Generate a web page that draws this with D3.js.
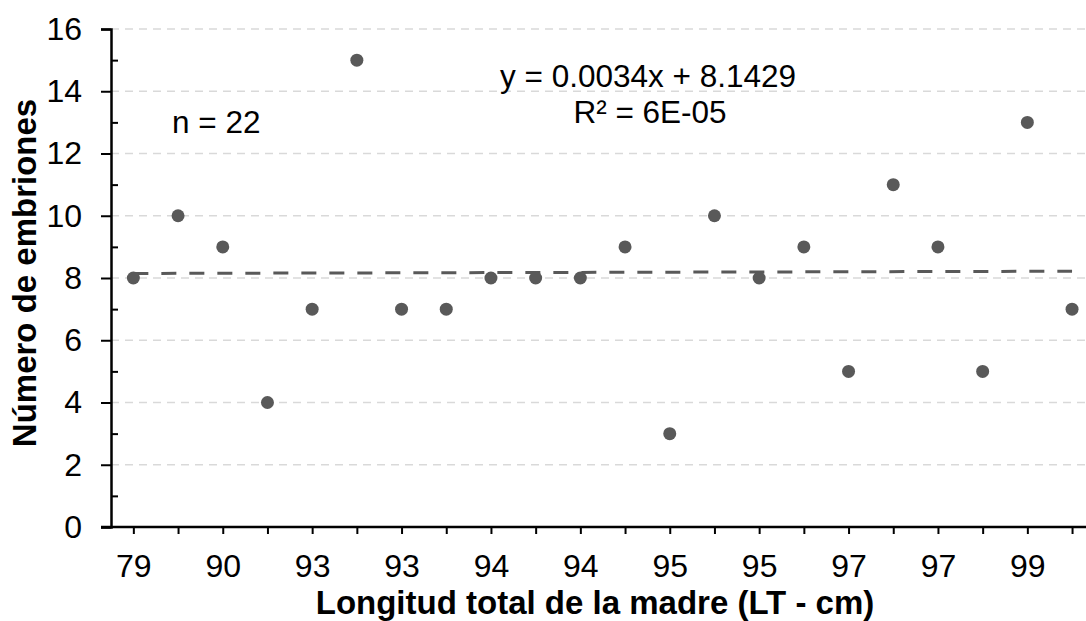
<!DOCTYPE html>
<html><head><meta charset="utf-8">
<script src="https://cdn.jsdelivr.net/npm/d3@7"></script>
<style>body{margin:0;background:#fff;} svg{display:block;font-family:"Liberation Sans",Arial,sans-serif;}</style>
</head><body>
<script>
const lengths = [79, 88, 90, 92, 93, 93, 93, 93, 94, 94, 94, 94, 95, 95, 95, 96, 97, 97, 97, 98, 99, 100];
const embryos = [8, 10, 9, 4, 7, 15, 7, 7, 8, 8, 8, 9, 3, 10, 8, 9, 5, 11, 9, 5, 13, 7];
const yTicks = [0, 2, 4, 6, 8, 10, 12, 14, 16];
const yMinorTicks = [1, 3, 5, 7, 9, 11, 13, 15];
const trendSlope = 0.0034, trendIntercept = 8.1429;
const equationText = "y = 0.0034x + 8.1429";
const r2Text = "R² = 6E-05";
const nText = "n = 22";

const W = 1086, H = 621;
const FONT = "Liberation Sans, Arial, sans-serif";
const svg = d3.select("body").append("svg").attr("width", W).attr("height", H);
const idx = d3.range(1, embryos.length + 1);
const x = d3.scaleLinear().domain([0.5, 22.5]).range([111, 111 + 22 * 44.7]);
const y = d3.scaleLinear().domain([0, 16]).range([527, 29]);

// gridlines
svg.append("g").selectAll("line").data(yTicks.filter(d => d > 0)).join("line")
  .attr("x1", x(0.5)).attr("x2", W).attr("y1", d => y(d)).attr("y2", d => y(d))
  .attr("stroke", "#d9d9d9").attr("stroke-width", 1.3).attr("stroke-dasharray", "8,6");

// trend line
svg.append("line")
  .attr("x1", x(1)).attr("x2", x(22))
  .attr("y1", y(trendIntercept + trendSlope * 1)).attr("y2", y(trendIntercept + trendSlope * 22))
  .attr("stroke", "#595959").attr("stroke-width", 3).attr("stroke-dasharray", "15,13");

// points
svg.append("g").selectAll("circle").data(idx).join("circle")
  .attr("cx", d => x(d)).attr("cy", (d, i) => y(embryos[i])).attr("r", 6.5).attr("fill", "#595959");

// y axis
const yAxis = svg.append("g").attr("transform", `translate(${x(0.5)},0)`)
  .call(d3.axisLeft(y).tickValues(yTicks).tickSize(10).tickPadding(19).tickFormat(d3.format("d")));
yAxis.select(".domain").attr("stroke", "#000").attr("stroke-width", 2.5);
yAxis.selectAll(".tick line").attr("stroke", "#000").attr("stroke-width", 2);
yAxis.selectAll("text").attr("font-size", 32).attr("fill", "#000").attr("font-family", FONT);
const yMinor = svg.append("g").attr("transform", `translate(${x(0.5)},0)`)
  .call(d3.axisRight(y).tickValues(yMinorTicks).tickSize(7).tickFormat(""));
yMinor.select(".domain").remove();
yMinor.selectAll(".tick line").attr("stroke", "#000").attr("stroke-width", 2);

// x axis
const xAxis = svg.append("g").attr("transform", `translate(0,${y(0)})`)
  .call(d3.axisBottom(x).tickValues(idx).tickSize(7).tickPadding(20)
    .tickFormat(d => (d % 2 === 1 ? lengths[d - 1] : "")));
xAxis.select(".domain").attr("stroke", "#000").attr("stroke-width", 2.5).attr("d", `M${x(0.5) - 10},0H${W + 5}`);
xAxis.selectAll(".tick line").attr("stroke", "#000").attr("stroke-width", 2);
xAxis.selectAll("text").attr("font-size", 32).attr("fill", "#000").attr("font-family", FONT);

// axis titles
svg.append("text").attr("x", 595).attr("y", 614).attr("text-anchor", "middle")
  .attr("font-size", 33).attr("font-weight", "bold").text("Longitud total de la madre (LT - cm)");
svg.append("text").attr("transform", "translate(36,273) rotate(-90)").attr("text-anchor", "middle")
  .attr("font-size", 33).attr("font-weight", "bold").text("Número de embriones");

// annotations
svg.append("text").attr("x", 648).attr("y", 87).attr("text-anchor", "middle").attr("font-size", 31.5).text(equationText);
svg.append("text").attr("x", 650).attr("y", 123).attr("text-anchor", "middle").attr("font-size", 31.5).text(r2Text);
svg.append("text").attr("x", 172).attr("y", 133).attr("font-size", 31.5).text(nText);
</script>
</body></html>
